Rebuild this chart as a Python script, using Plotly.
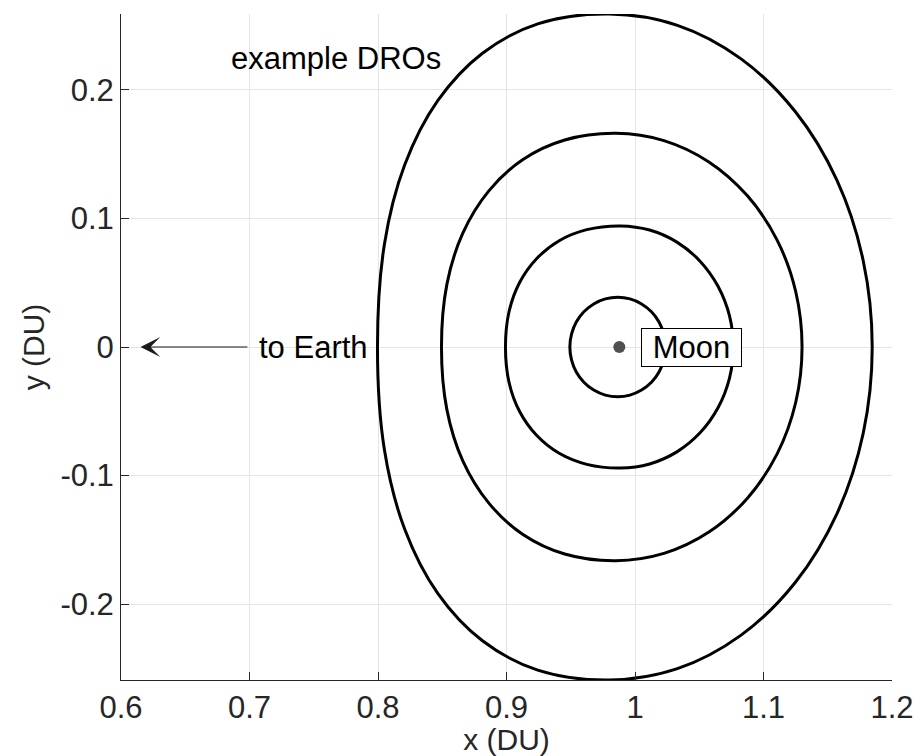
import plotly.graph_objects as go

# Upper halves of four distant retrograde orbits (x, y in DU), left to right.
# Each orbit is symmetric about the x-axis, so the lower half is its mirror.
dro1_x = [0.7996, 0.8050, 0.8208, 0.8465, 0.8813, 0.9243, 0.9800,
          1.0330, 1.0823, 1.1247, 1.1572, 1.1776, 1.1846]
dro1_y = [0.0000, 0.0800, 0.1418, 0.1917, 0.2286, 0.2514, 0.2591,
          0.2503, 0.2244, 0.1832, 0.1296, 0.0671, 0.0000]

dro2_x = [0.8494, 0.8536, 0.8660, 0.8861, 0.9128, 0.9453, 0.9850,
          1.0225, 1.0575, 1.0875, 1.1106, 1.1251, 1.1300]
dro2_y = [0.0000, 0.0487, 0.0886, 0.1213, 0.1459, 0.1611, 0.1663,
          0.1606, 0.1440, 0.1176, 0.0832, 0.0430, 0.0000]

dro3_x = [0.8992, 0.9020, 0.9102, 0.9234, 0.9410, 0.9625, 0.9887,
          1.0114, 1.0326, 1.0508, 1.0647, 1.0735, 1.0765]
dro3_y = [0.0000, 0.0276, 0.0502, 0.0687, 0.0827, 0.0913, 0.0942,
          0.0910, 0.0816, 0.0666, 0.0471, 0.0244, 0.0000]

dro4_x = [0.9493, 0.9506, 0.9543, 0.9602, 0.9679, 0.9769, 0.9865,
          0.9961, 1.0051, 1.0128, 1.0187, 1.0224, 1.0237]
dro4_y = [0.0000, 0.0100, 0.0194, 0.0274, 0.0335, 0.0374, 0.0387,
          0.0374, 0.0335, 0.0274, 0.0194, 0.0100, 0.0000]

orbits = [(dro1_x, dro1_y), (dro2_x, dro2_y), (dro3_x, dro3_y), (dro4_x, dro4_y)]

moon_x = [0.9878]
moon_y = [0.0]

x_ticks = [0.6, 0.7, 0.8, 0.9, 1.0, 1.1, 1.2]
x_tick_text = ["0.6", "0.7", "0.8", "0.9", "1", "1.1", "1.2"]
y_ticks = [-0.2, -0.1, 0.0, 0.1, 0.2]
y_tick_text = ["-0.2", "-0.1", "0", "0.1", "0.2"]

FONT = "Liberation Sans, Arial, Helvetica, sans-serif"
FS = 31
AX = "#262626"

fig = go.Figure()

for ox, oy in orbits:
    # closed loop: upper half left->right, lower half right->left back to start
    loop_x = list(ox) + list(ox[-2::-1])
    loop_y = list(oy) + [-v for v in oy[-2::-1]]
    fig.add_trace(go.Scatter(
        x=loop_x, y=loop_y, mode="lines",
        line=dict(color="black", width=3, shape="spline", smoothing=1),
        hoverinfo="skip", showlegend=False,
    ))

fig.add_trace(go.Scatter(
    x=moon_x, y=moon_y, mode="markers",
    marker=dict(color="#505050", size=12),
    showlegend=False, hoverinfo="skip",
))

fig.add_annotation(
    x=1.0045, y=0, xref="x", yref="y", text="Moon", showarrow=False,
    xanchor="left", yanchor="middle", width=97, height=35,
    bgcolor="white", bordercolor="black", borderwidth=1, borderpad=1,
    font=dict(family=FONT, size=FS, color="black"),
)

fig.add_annotation(
    x=0.706, y=0, xref="x", yref="y", text="to Earth", showarrow=False,
    xanchor="left", yanchor="middle",
    font=dict(family=FONT, size=FS, color="black"),
)

# arrow pointing toward Earth
fig.add_annotation(
    x=0.6152, y=0, ax=0.6995, ay=0, xref="x", yref="y", axref="x", ayref="y",
    text="", showarrow=True, arrowhead=3, arrowsize=3, arrowwidth=1.1,
    arrowcolor="#1a1a1a", standoff=0, startstandoff=0,
)

fig.add_annotation(
    x=0.684, y=0.2245, xref="x", yref="y", text="example DROs", showarrow=False,
    xanchor="left", yanchor="middle",
    font=dict(family=FONT, size=FS, color="black"),
)

axis_common = dict(
    showline=True, linecolor=AX, linewidth=1, mirror=False,
    ticks="inside", ticklen=8, tickcolor=AX, tickwidth=1,
    showgrid=True, gridcolor="#e5e5e5", gridwidth=1, zeroline=False,
    tickfont=dict(family=FONT, size=FS, color=AX), automargin=False,
)

fig.update_layout(
    width=914, height=756,
    margin=dict(l=121, r=22, t=14, b=76),
    plot_bgcolor="white", paper_bgcolor="white",
    xaxis=dict(range=[0.6, 1.2], tickvals=x_ticks, ticktext=x_tick_text,
               title=dict(text="x (DU)", font=dict(family=FONT, size=30, color=AX),
                          standoff=7),
               **axis_common),
    yaxis=dict(range=[-0.2591, 0.2591], tickvals=y_ticks, ticktext=y_tick_text,
               title=dict(text="y (DU)", font=dict(family=FONT, size=30, color=AX),
                          standoff=6),
               **axis_common),
)

fig.write_html("out.html")
